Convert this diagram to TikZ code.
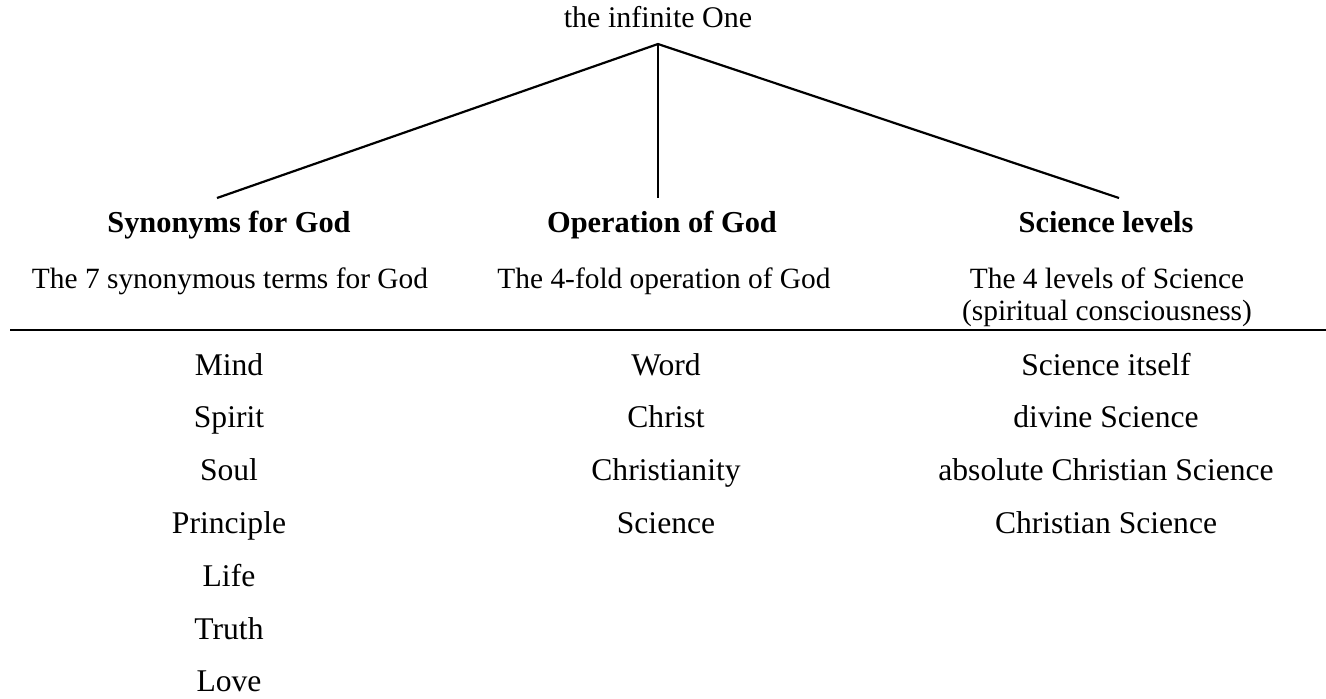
\documentclass[tikz,border=0pt]{standalone}
\usepackage{fontspec}
\setmainfont{Liberation Serif}
\tikzset{
  txt/.style={font=\fontsize{15}{18}\selectfont, inner sep=0pt, anchor=base},
  head/.style={txt, font=\fontsize{15.2}{18}\selectfont\bfseries},
  sub/.style={txt, font=\fontsize{14.7}{18}\selectfont},
  term/.style={txt, font=\fontsize{15.8}{19}\selectfont},
  branch/.style={line width=1.1pt}
}
\begin{document}
\begin{tikzpicture}[x=0.5pt,y=0.5pt,yscale=-1,xscale=1]
\useasboundingbox (0,0) rectangle (1326,698);

% Text Node
\node [txt] (one) at (658,27) {the infinite One};

%Straight Lines
\coordinate (apex) at (658,44);
\coordinate (synTop) at (217,198);
\coordinate (opTop) at (658,198);
\coordinate (sciTop) at (1119,198);
\draw [branch] (synTop) -- (apex) -- (sciTop);
\draw [branch] (apex) -- (opTop);

% Headings
\node [head] (synHead) at (229,232) {Synonyms for God};
\node [head] (opHead) at (662,232) {Operation of God};
\node [head] (sciHead) at (1106,232) {Science levels};

% Sub headings
\node [sub] (synSub) at (230,288) {The 7 synonymous terms for God};
\node [sub] (opSub) at (664,288) {The 4-fold operation of God};
\node [sub] (sciSub) at (1107,288) {The 4 levels of Science};
\node [sub] (sciSubb) at (1107,320) {(spiritual consciousness)};

%Straight Lines
\draw [branch] (10,330) -- (1326,330);

% Synonyms
\node [term] (mind) at (229,375) {Mind};
\node [term] (spirit) at (229,427.8) {Spirit};
\node [term] (soul) at (229,480.6) {Soul};
\node [term] (principle) at (229,533.4) {Principle};
\node [term] (life) at (229,586.2) {Life};
\node [term] (truth) at (229,639) {Truth};
\node [term] (love) at (229,691.8) {Love};

% Operation
\node [term] (word) at (666,375) {Word};
\node [term] (christ) at (666,427.8) {Christ};
\node [term] (christianity) at (666,480.6) {Christianity};
\node [term] (science) at (666,533.4) {Science};

% Science levels
\node [term] (itself) at (1106,375) {Science itself};
\node [term] (divine) at (1106,427.8) {divine Science};
\node [term] (absolute) at (1106,480.6) {absolute Christian Science};
\node [term] (cs) at (1106,533.4) {Christian Science};

\end{tikzpicture}
\end{document}
